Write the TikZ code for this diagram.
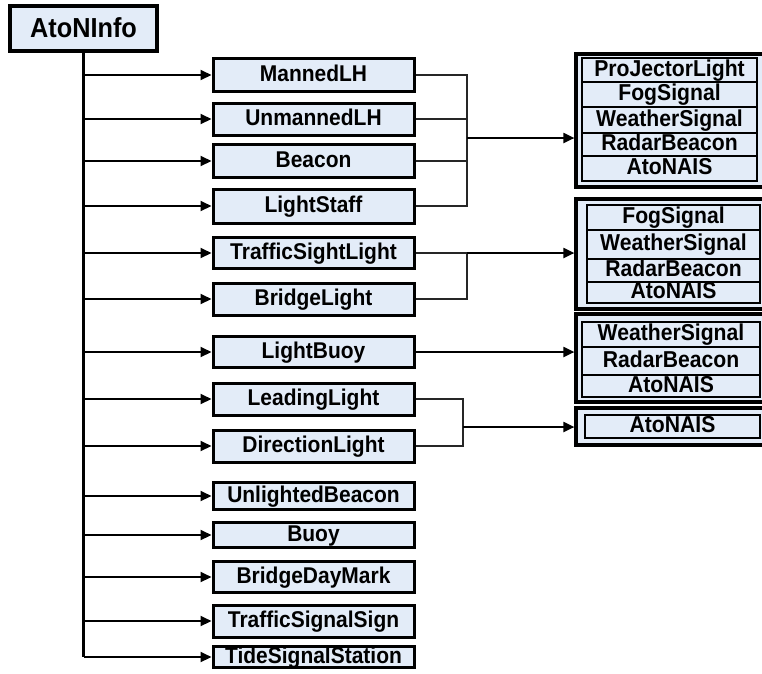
\documentclass[tikz,border=0pt]{standalone}
\usepackage{fontspec}
\setmainfont{Liberation Sans}[FakeStretch=0.92]
\usetikzlibrary{arrows.meta}
\definecolor{boxblue}{HTML}{E3ECF8}
\tikzset{
    classbox/.style={draw, line width=3pt, fill=boxblue, inner sep=0pt,
        minimum width=201pt, minimum height=32pt, text height=17pt, text depth=4pt,
        font=\fontsize{22.8}{26}\selectfont\bfseries},
    groupbox/.style={draw, line width=3.2pt, fill=boxblue, inner sep=0pt, minimum width=192pt},
    rowbox/.style={draw, line width=1.5pt, fill=boxblue, inner sep=0pt,
        text height=16pt, text depth=4pt, font=\fontsize{23}{26}\selectfont\bfseries},
    trunk/.style={line width=3.2pt},
    feed/.style={->, line width=2pt},
    bracket/.style={line width=1.7pt, draw=black!85}
}
\begin{document}
\begin{tikzpicture}[x=1pt,y=-1pt,>={Triangle[length=11pt,width=10pt]}]
        \useasboundingbox (0,0) rectangle (762,673);

        % draw the root class
        \node[classbox, minimum width=147pt, minimum height=45pt, line width=3.4pt,
              text height=19pt, text depth=1pt,
              font=\fontsize{27.5}{30}\selectfont\bfseries] (info) at (83.5,28.5) {AtoNInfo};

        % draw the subclasses
        \node[classbox, minimum height=33pt] (mannedLH)       at (313.5,75)  {MannedLH};
        \node[classbox]                      (unmannedLH)     at (313.5,119) {UnmannedLH};
        \node[classbox, minimum height=33pt] (beacon)         at (313.5,161) {Beacon};
        \node[classbox, minimum height=34pt] (lightStaff)     at (313.5,206) {LightStaff};
        \node[classbox, minimum height=31pt] (trafficSight)   at (313.5,253) {TrafficSightLight};
        \node[classbox]                      (bridgeLight)    at (313.5,299) {BridgeLight};
        \node[classbox, minimum height=31pt] (lightBuoy)      at (313.5,352) {LightBuoy};
        \node[classbox]                      (leadingLight)   at (313.5,399) {LeadingLight};
        \node[classbox]                      (directionLight) at (313.5,446) {DirectionLight};
        \node[classbox, minimum height=27pt] (unlighted)      at (313.5,496) {UnlightedBeacon};
        \node[classbox, minimum height=25pt] (buoy)           at (313.5,535) {Buoy};
        \node[classbox, minimum height=31pt] (dayMark)        at (313.5,577) {BridgeDayMark};
        \node[classbox]                      (signalSign)     at (313.5,621) {TrafficSignalSign};
        \node[classbox, minimum height=20pt] (tideStation)    at (313.5,657) {TideSignalStation};

        % draw the trunk and the arrows to every subclass
        \draw[trunk] (info.south) -- (info.south |- tideStation.west);
        \foreach \c in {mannedLH,unmannedLH,beacon,lightStaff,trafficSight,bridgeLight,
                        lightBuoy,leadingLight,directionLight,unlighted,buoy,dayMark,
                        signalSign,tideStation}
            \draw[feed] (info.south |- \c.west) -- (\c.west);

        % draw the groups of equipment on the right
        \node[groupbox, minimum height=133pt] (grpA) at (672,120.5) {};
        \node[rowbox, minimum width=175pt, minimum height=24pt] (grpA1) at (669.5,70)    {ProJectorLight};
        \node[rowbox, minimum width=175pt, minimum height=25pt] (grpA2) at (669.5,94.5)  {FogSignal};
        \node[rowbox, minimum width=175pt, minimum height=26pt] (grpA3) at (669.5,120)   {WeatherSignal};
        \node[rowbox, minimum width=175pt, minimum height=23pt] (grpA4) at (669.5,144.5) {RadarBeacon};
        \node[rowbox, minimum width=175pt, minimum height=25pt] (grpA5) at (669.5,168.5) {AtoNAIS};

        \node[groupbox, minimum height=110pt] (grpB) at (672,254) {};
        \node[rowbox, minimum width=173pt, minimum height=25pt] (grpB1) at (673.5,217.5) {FogSignal};
        \node[rowbox, minimum width=173pt, minimum height=29pt] (grpB2) at (673.5,244.5) {WeatherSignal};
        \node[rowbox, minimum width=173pt, minimum height=23pt] (grpB3) at (673.5,270.5) {RadarBeacon};
        \node[rowbox, minimum width=173pt, minimum height=21pt] (grpB4) at (673.5,292.5) {AtoNAIS};

        \node[groupbox, minimum height=88pt] (grpC) at (672,358) {};
        \node[rowbox, minimum width=178pt, minimum height=25pt] (grpC1) at (671,334.5) {WeatherSignal};
        \node[rowbox, minimum width=178pt, minimum height=28pt] (grpC2) at (671,361)   {RadarBeacon};
        \node[rowbox, minimum width=178pt, minimum height=22pt] (grpC3) at (671,386)   {AtoNAIS};

        \node[groupbox, minimum height=37pt] (grpD) at (672,426.5) {};
        \node[rowbox, minimum width=175pt, minimum height=23pt] (grpD1) at (672.5,426.5) {AtoNAIS};

        % draw the brackets that join subclasses to a group
        \coordinate (joinA) at (467,138);
        \draw[bracket] (mannedLH.east) -| (joinA) |- (lightStaff.east);
        \draw[bracket] (unmannedLH.east) -- (unmannedLH.east -| joinA);
        \draw[bracket] (beacon.east) -- (beacon.east -| joinA);
        \draw[feed] (joinA) -- (grpA.west |- joinA);

        \coordinate (joinB) at (trafficSight.east -| joinA);
        \draw[bracket] (trafficSight.east) -- (joinB) |- (bridgeLight.east);
        \draw[feed] (joinB) -- (grpB.west |- joinB);

        \draw[feed] (lightBuoy.east) -- (grpC.west |- lightBuoy.east);

        \coordinate (joinD) at (463,427);
        \draw[bracket] (leadingLight.east) -| (joinD) |- (directionLight.east);
        \draw[feed] (joinD) -- (grpD.west |- joinD);
\end{tikzpicture}
\end{document}
